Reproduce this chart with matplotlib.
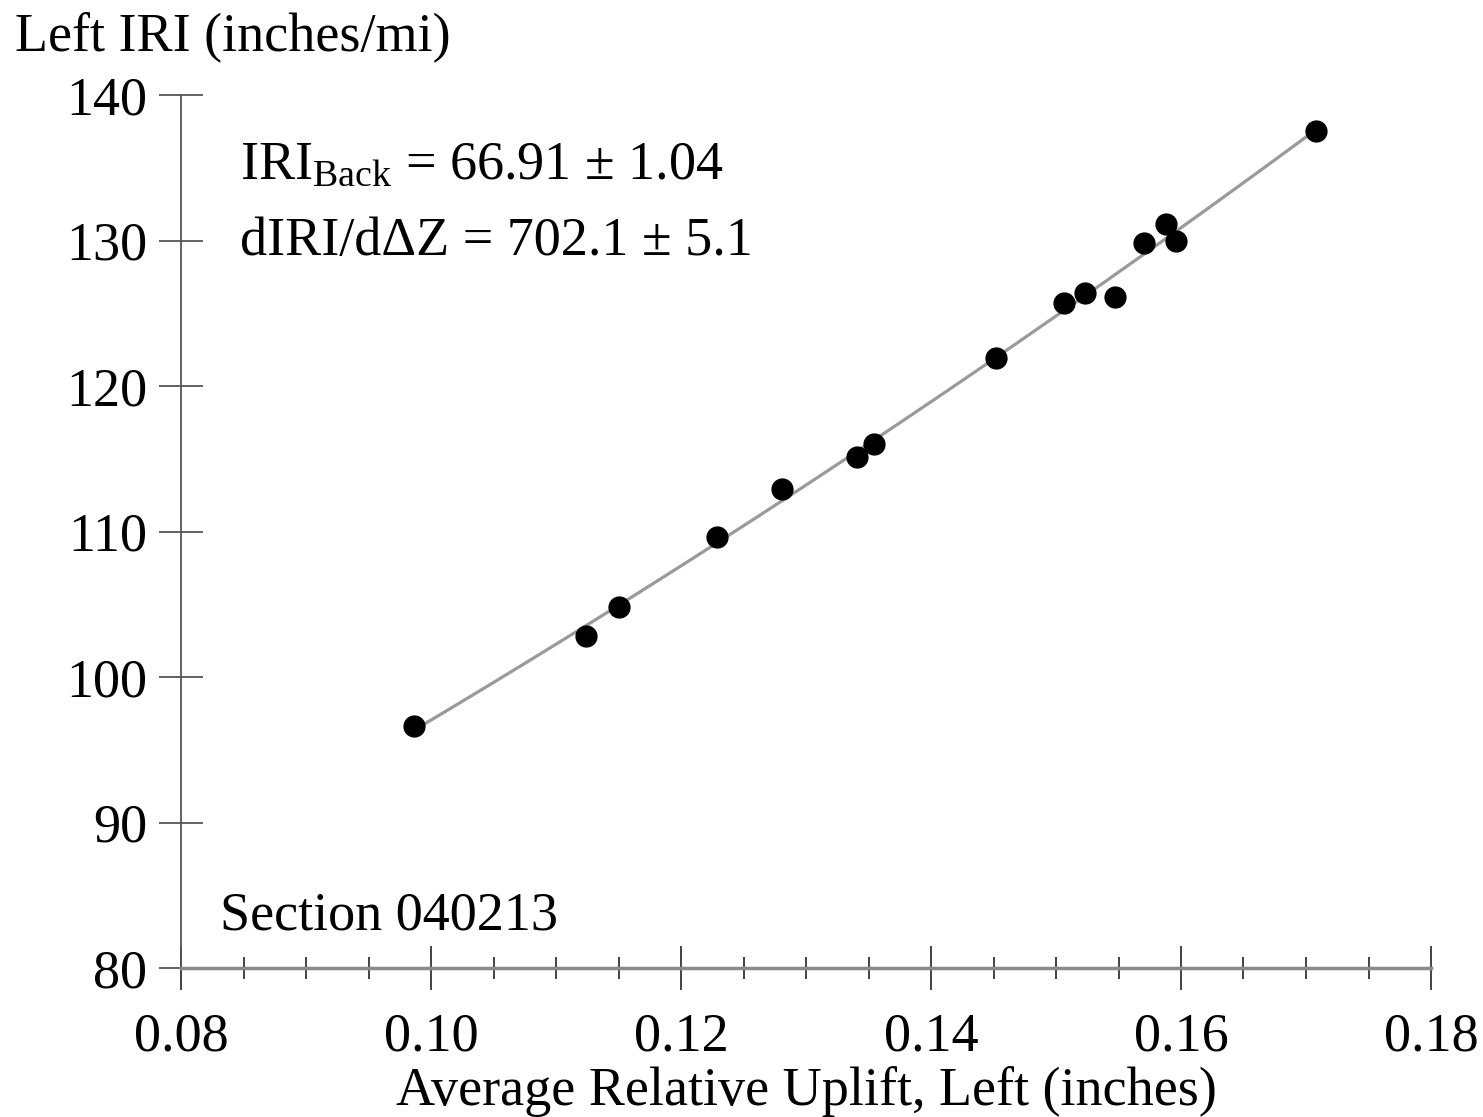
import numpy as np
import matplotlib.pyplot as plt
from matplotlib.ticker import MultipleLocator

plt.rcParams['font.family'] = ['Liberation Serif', 'DejaVu Serif']
plt.rcParams['mathtext.fontset'] = 'custom'
plt.rcParams['mathtext.rm'] = 'Liberation Serif'
plt.rcParams['mathtext.it'] = 'Liberation Serif:italic'

# data
uplift = np.array([0.0986, 0.1124, 0.1150, 0.1229, 0.1281, 0.1341, 0.1354,
                   0.1452, 0.1506, 0.1523, 0.1547, 0.1570, 0.1588, 0.1596, 0.1708])
iri = np.array([96.6, 102.8, 104.8, 109.6, 112.9, 115.1, 116.0,
                121.9, 125.7, 126.4, 126.1, 129.8, 131.1, 130.0, 137.5])

fit_text1 = r'IRI$_{\mathrm{Back}}$ = 66.91 ± 1.04'
fit_text2 = 'dIRI/dΔZ = 702.1 ± 5.1'
section = 'Section 040213'

fs = 39

fig = plt.figure(figsize=(14.83, 11.17), dpi=100)
ax = fig.add_axes([181/1483, 1 - 968/1117, (1431-181)/1483, (968-95)/1117])

# fitted curve through the data (slightly bent, as in the reference)
coef = np.polyfit(uplift, iri, 2)
xf = np.linspace(uplift.min(), uplift.max(), 100)
ax.plot(xf, np.polyval(coef, xf), color='#9a9a9a', lw=2.3, zorder=2)
ax.plot(uplift, iri, 'o', color='black', ms=15, zorder=3)

ax.set_xlim(0.08, 0.18)
ax.set_ylim(80, 140)
ax.xaxis.set_major_locator(MultipleLocator(0.02))
ax.xaxis.set_minor_locator(MultipleLocator(0.005))
ax.yaxis.set_major_locator(MultipleLocator(10))
ax.xaxis.set_major_formatter(plt.FuncFormatter(lambda v, p: f'{v:.2f}'))

for s in ['top', 'right']:
    ax.spines[s].set_visible(False)
ax.spines['left'].set_color('#555555')
ax.spines['left'].set_linewidth(1.3)
ax.spines['bottom'].set_color('#8a8a8a')
ax.spines['bottom'].set_linewidth(2.5)

ax.tick_params(axis='x', which='major', direction='inout', length=31, width=1.2,
               color='#222222', labelsize=fs, pad=16)
ax.tick_params(axis='x', which='minor', direction='inout', length=16, width=1.2,
               color='#222222')
ax.tick_params(axis='y', which='major', direction='inout', length=31, width=1.3,
               color='#555555', labelsize=fs, pad=9)

ax.set_xlabel('Average Relative Uplift, Left (inches)', fontsize=fs, labelpad=3)
fig.text(15/1483, 1 - 50/1117, 'Left IRI (inches/mi)', fontsize=fs,
         ha='left', va='baseline')

ax.text(240/1483, 1 - 178/1117, fit_text1, fontsize=fs, ha='left', va='baseline',
        transform=fig.transFigure)
ax.text(240/1483, 1 - 255/1117, fit_text2, fontsize=fs, ha='left', va='baseline',
        transform=fig.transFigure)
ax.text(220/1483, 1 - 930/1117, section, fontsize=fs, ha='left', va='baseline',
        transform=fig.transFigure)

fig.savefig('out.png', dpi=100)
